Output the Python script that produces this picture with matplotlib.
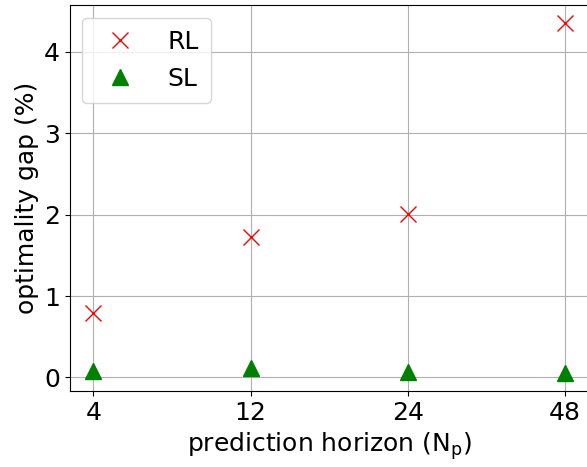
import matplotlib
matplotlib.use('Agg')
import matplotlib.pyplot as plt

horizons = ['4', '12', '24', '48']
rl_gap = [0.79, 1.73, 2.01, 4.36]
sl_gap = [0.08, 0.12, 0.07, 0.05]

plt.rcParams['font.size'] = 18

fig = plt.figure(figsize=(5.87, 4.67), dpi=100)
ax = fig.add_axes([0.119, 0.163, 0.884, 0.826])

pos = list(range(len(horizons)))
ax.plot(pos, rl_gap, 'x', color='red', markersize=11, label='RL')
ax.plot(pos, sl_gap, '^', color='green', markersize=11, label='SL')

ax.set_xticks(pos)
ax.set_xticklabels(horizons)
ax.set_yticks([0, 1, 2, 3, 4])
ax.grid(True)
ax.set_axisbelow(True)

ax.set_xlabel('prediction horizon (N$_\\mathrm{p}$)')
ax.set_ylabel('optimality gap (%)')
ax.legend(loc='upper left', handletextpad=0.9, borderpad=0.5)

fig.savefig('out.png', dpi=100)
